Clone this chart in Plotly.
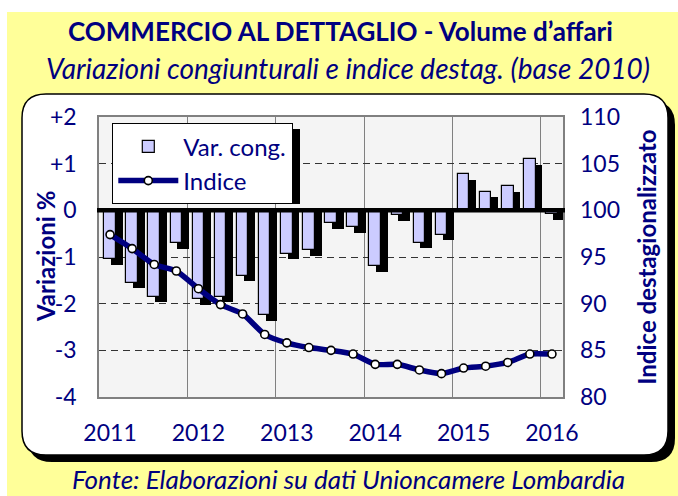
import plotly.graph_objects as go

# ---------------- data ----------------
quarters = ["2011-T1", "2011-T2", "2011-T3", "2011-T4",
            "2012-T1", "2012-T2", "2012-T3", "2012-T4",
            "2013-T1", "2013-T2", "2013-T3", "2013-T4",
            "2014-T1", "2014-T2", "2014-T3", "2014-T4",
            "2015-T1", "2015-T2", "2015-T3", "2015-T4",
            "2016-T1"]
var_cong = [-1.05, -1.55, -1.85, -0.70, -1.90, -1.85, -1.40, -2.25,
            -0.93, -0.85, -0.27, -0.36, -1.20, -0.11, -0.69, -0.52,
            0.78, 0.40, 0.52, 1.09, -0.08]
indice = [97.4, 95.9, 94.2, 93.5, 91.6, 89.9, 88.9, 86.7,
          85.8, 85.3, 85.0, 84.6, 83.5, 83.5, 82.9, 82.5,
          83.1, 83.3, 83.7, 84.6, 84.6]
year_labels = ["2011", "2012", "2013", "2014", "2015", "2016"]
left_ticks = [-4, -3, -2, -1, 0, 1, 2]
left_ticktext = ["-4", "-3", "-2", "-1", "0", "+1", "+2"]
right_ticks = [80, 85, 90, 95, 100, 105, 110]

# ---------------- geometry helpers ----------------
W, H = 678, 496
L, R, T, B = 99, 563, 117, 397
PW, PH = R - L, B - T


def px(x):
    return (x - L) / PW


def py(y):
    return (B - y) / PH


def rounded_path(x0, y0, x1, y1, r):
    pts = [f"M {px(x0 + r)},{py(y0)}",
           f"L {px(x1 - r)},{py(y0)}",
           f"Q {px(x1)},{py(y0)} {px(x1)},{py(y0 + r)}",
           f"L {px(x1)},{py(y1 - r)}",
           f"Q {px(x1)},{py(y1)} {px(x1 - r)},{py(y1)}",
           f"L {px(x0 + r)},{py(y1)}",
           f"Q {px(x0)},{py(y1)} {px(x0)},{py(y1 - r)}",
           f"L {px(x0)},{py(y0 + r)}",
           f"Q {px(x0)},{py(y0)} {px(x0 + r)},{py(y0)}",
           "Z"]
    return " ".join(pts)


NAVY = "#000080"
FONT = "Lato"

xpos = list(range(len(quarters)))
year_idx = [quarters.index(y + "-T1") for y in year_labels]
boundaries = [i - 0.5 for i in year_idx if i > 0]

bar_w = 0.52
shadow_dx = 0.31
shadow_dy = 0.12
shadow_vals = [v - shadow_dy for v in var_cong]

fig = go.Figure()

fig.add_trace(go.Bar(
    x=xpos, y=shadow_vals, width=bar_w, offset=-bar_w / 2 + shadow_dx,
    marker=dict(color="black", line=dict(width=0)),
    showlegend=False, hoverinfo="skip", name="ombra"))

fig.add_trace(go.Bar(
    x=xpos, y=var_cong, width=bar_w, offset=-bar_w / 2,
    marker=dict(color="#CCCCFF", line=dict(color="black", width=1.2)),
    name="Var. cong.", hovertext=quarters))

fig.add_trace(go.Scatter(
    x=xpos, y=indice, yaxis="y2", mode="lines+markers",
    line=dict(color=NAVY, width=5.5, shape="spline", smoothing=0.6),
    marker=dict(size=8, color="white", line=dict(color="black", width=1.6)),
    name="Indice", hovertext=quarters))

# legend box (pixels) for its drop shadow
LEG_X0, LEG_Y0, LEG_X1, LEG_Y1 = 112, 123, 294, 198

shapes = [
    dict(type="rect", xref="paper", yref="paper", x0=px(7), x1=px(680), y0=py(12), y1=py(498),
         fillcolor="#FFFF99", line=dict(width=0), layer="below"),
    dict(type="path", xref="paper", yref="paper", path=rounded_path(28, 101, 675, 462, 24),
         fillcolor="black", line=dict(width=0), layer="below"),
    dict(type="path", xref="paper", yref="paper", path=rounded_path(22, 94, 668, 455, 24),
         fillcolor="white", line=dict(color="black", width=1.5), layer="below"),
    dict(type="rect", xref="paper", yref="paper", x0=0, x1=1, y0=0, y1=1,
         fillcolor="#F4F4F4", line=dict(width=0), layer="below"),
    dict(type="line", xref="paper", yref="y", x0=px(97), x1=px(565), y0=0, y1=0,
         line=dict(color="black", width=4.5), layer="above"),
    dict(type="rect", xref="paper", yref="paper",
         x0=px(LEG_X0 + 6), x1=px(LEG_X1 + 6), y0=py(LEG_Y0 + 6), y1=py(LEG_Y1 + 6),
         fillcolor="black", line=dict(width=0), layer="above"),
]

annotations = [
    dict(text="<b>COMMERCIO AL DETTAGLIO - Volume d’affari</b>", x=px(340), y=py(31),
         xref="paper", yref="paper", showarrow=False, xanchor="center", yanchor="middle",
         font=dict(family=FONT, size=26, color=NAVY)),
    dict(text="<i>Variazioni congiunturali e indice destag. (base 2010)</i>", x=px(348), y=py(68),
         xref="paper", yref="paper", showarrow=False, xanchor="center", yanchor="middle",
         font=dict(family=FONT, size=28, color=NAVY)),
    dict(text="<i>Fonte: Elaborazioni su dati Unioncamere Lombardia</i>", x=px(348), y=py(497),
         xref="paper", yref="paper", showarrow=False, xanchor="center", yanchor="bottom",
         font=dict(family=FONT, size=26, color=NAVY)),
    dict(text="<b>Variazioni %</b>", x=px(45), y=py(257), textangle=-90,
         xref="paper", yref="paper", showarrow=False, xanchor="center", yanchor="middle",
         font=dict(family=FONT, size=24, color=NAVY)),
]

fig.update_layout(
    width=W, height=H, autosize=False,
    margin=dict(l=L, r=W - R, t=T, b=H - B),
    paper_bgcolor="white", plot_bgcolor="rgba(0,0,0,0)",
    barmode="overlay", bargap=0,
    font=dict(family=FONT, color=NAVY, size=23),
    shapes=shapes, annotations=annotations,
    legend=dict(x=px(LEG_X0), y=py(LEG_Y0), xanchor="left", yanchor="top",
                bgcolor="white", bordercolor="black", borderwidth=1.3,
                font=dict(family=FONT, size=24, color=NAVY),
                itemwidth=60, tracegroupgap=0),
    xaxis=dict(range=[-0.5, len(quarters) - 0.5], tickmode="array",
               tickvals=year_idx, ticktext=year_labels, showgrid=False,
               ticks="", ticklabelstandoff=15, zeroline=False, automargin=False,
               showline=True, mirror=True, linecolor="#808080", linewidth=1.5,
               tickfont=dict(size=23, color=NAVY),
               minor=dict(tickmode="array", tickvals=boundaries, showgrid=True,
                          gridcolor="#808080", gridwidth=1, ticks="")),
    yaxis=dict(range=[-4, 2], tickmode="array", tickvals=left_ticks, ticktext=left_ticktext,
               showgrid=False, zeroline=False, ticks="", ticklabelstandoff=16, automargin=False,
               showline=True, mirror=True, linecolor="#808080", linewidth=1.5,
               tickfont=dict(size=23, color=NAVY),
               minor=dict(tickmode="array", tickvals=[-3, -2, -1, 1], showgrid=True,
                          gridcolor="#333333", gridwidth=1, griddash="7px,5px", ticks="")),
    yaxis2=dict(range=[80, 110], overlaying="y", side="right", tickmode="array",
                tickvals=right_ticks, showgrid=False, zeroline=False, ticks="",
                ticklabelstandoff=16, showline=False, automargin=False,
                tickfont=dict(size=23, color=NAVY),
                title=dict(text="<b>Indice destagionalizzato</b>", standoff=20,
                           font=dict(family=FONT, size=24, color=NAVY))),
)

fig.write_html("out.html", config={"displayModeBar": False},
               post_script="document.body.style.margin='0';")
